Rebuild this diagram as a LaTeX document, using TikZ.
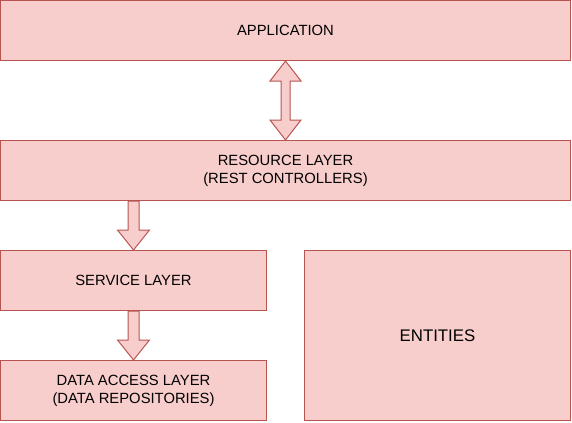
\documentclass[tikz,border=0pt]{standalone}
\usepackage{fontspec}
\setmainfont{Liberation Sans}
\usetikzlibrary{calc}
\definecolor{boxfill}{HTML}{F8CECC}
\definecolor{boxline}{HTML}{B85450}
\tikzset{
  layer/.style={draw=boxline, fill=boxfill, line width=0.75pt, inner sep=0pt,
    align=center, font=\fontsize{11.1}{13.4}\selectfont},
  arr/.style={draw=boxline, fill=boxfill, line width=0.75pt, line join=miter}
}
\begin{document}
\begin{tikzpicture}[x=0.75pt, y=-0.75pt]
\useasboundingbox (0,0) rectangle (572,422);
\node[layer, minimum width=427.5pt, minimum height=45pt] (app) at (285.5,30.5) {APPLICATION};
\node[layer, minimum width=427.5pt, minimum height=45pt] (res) at (285.5,170.5) {RESOURCE LAYER\\(REST CONTROLLERS)};
\node[layer, minimum width=199.5pt, minimum height=45pt] (svc) at (133.5,280.5) {SERVICE LAYER};
\node[layer, minimum width=199.5pt, minimum height=45pt] (dal) at (133.5,390.5) {DATA ACCESS LAYER\\(DATA REPOSITORIES)};
\node[layer, minimum width=199.5pt, minimum height=127.5pt, font=\fontsize{12.6}{15}\selectfont] (ent) at (437.5,335.5) {ENTITIES};
% double arrow between application and resource layer
\draw[arr] (app.south) -- ++(15.5,20) -- ++(-11,0) -- ($(res.north)+(4.5,-20)$) -- ++(11,0)
  -- (res.north) -- ++(-15.5,-20) -- ++(11,0) -- ($(app.south)+(-4.5,20)$) -- ++(-11,0) -- cycle;
% resource -> service
\coordinate (s1) at (res.south -| svc.north);
\draw[arr] ($(s1)+(-5.5,0)$) -- ($(svc.north)+(-5.5,-20)$) -- ++(-10.5,0) -- (svc.north)
  -- ++(16,-20) -- ++(-10.5,0) -- ($(s1)+(5.5,0)$) -- cycle;
% service -> data access
\draw[arr] ($(svc.south)+(-5.5,0)$) -- ($(dal.north)+(-5.5,-20)$) -- ++(-10.5,0) -- (dal.north)
  -- ++(16,-20) -- ++(-10.5,0) -- ($(svc.south)+(5.5,0)$) -- cycle;
\end{tikzpicture}
\end{document}
